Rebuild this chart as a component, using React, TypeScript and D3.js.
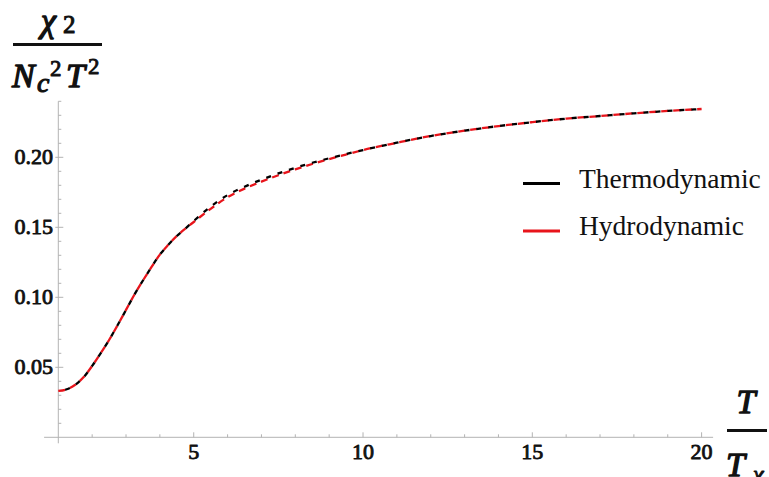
import React, { useRef, useEffect } from 'react'
import * as d3 from 'd3'

// T / T_chi
const temps = [1, 1.25, 1.5, 1.75, 2, 2.25, 2.5, 2.75, 3, 3.25, 3.5, 3.75, 4, 4.25, 4.5, 4.75, 5, 5.5, 6, 6.5, 7, 7.5, 8, 8.5, 9, 9.5, 10, 11, 12, 13, 14, 15, 16, 17, 18, 19, 20]

// chi_2 / (Nc^2 T^2)
const thermo = [0.0331, 0.0343, 0.0375, 0.043, 0.051, 0.060, 0.0695, 0.080, 0.091, 0.102, 0.112, 0.1215, 0.1305, 0.1375, 0.1438, 0.149, 0.1545, 0.1648, 0.173, 0.179, 0.184, 0.1885, 0.1925, 0.1961, 0.1993, 0.2023, 0.2052, 0.2104, 0.2152, 0.219, 0.2223, 0.2251, 0.2276, 0.2295, 0.2314, 0.2331, 0.2345]
const hydro = [0.0331, 0.0343, 0.0375, 0.043, 0.051, 0.060, 0.0695, 0.080, 0.091, 0.102, 0.112, 0.1215, 0.1305, 0.1375, 0.1438, 0.149, 0.1538, 0.1632, 0.1715, 0.1776, 0.1826, 0.1872, 0.1914, 0.1952, 0.1987, 0.202, 0.2052, 0.2104, 0.2152, 0.219, 0.2223, 0.2251, 0.2276, 0.2295, 0.2314, 0.2331, 0.2345]

const xMajor = [5, 10, 15, 20]
const xMinor = [2, 3, 4, 6, 7, 8, 9, 11, 12, 13, 14, 16, 17, 18, 19]
const yMajor = [0.05, 0.1, 0.15, 0.2]
const yMinor = [0.01, 0.02, 0.03, 0.04, 0.06, 0.07, 0.08, 0.09, 0.11, 0.12, 0.13, 0.14, 0.16, 0.17, 0.18, 0.19, 0.21, 0.22, 0.23, 0.24]

const series = [
  { name: 'Thermodynamic', values: thermo, color: '#000000' },
  { name: 'Hydrodynamic', values: hydro, color: '#e8141b' },
]

const serif = 'Liberation Serif'
const ink = '#111'

export default function App() {
  const svgRef = useRef<SVGSVGElement>(null)

  useEffect(() => {
    const svg = d3.select(svgRef.current)
    svg.selectAll('*').remove()

    const x = d3.scaleLinear().domain([1, 20]).range([58.3, 701.6])
    const y = d3.scaleLinear().domain([0, 0.24]).range([437.3, 101.3])
    const axisColor = '#b3b3b3'

    // bold look: regular serif face thickened with a stroke of the same ink
    const boldText = (tx: number, ty: number, str: string, size: number, italic = false, anchor = 'start') =>
      svg.append('text')
        .attr('x', tx).attr('y', ty)
        .attr('text-anchor', anchor)
        .attr('font-family', serif)
        .attr('font-style', italic ? 'italic' : 'normal')
        .attr('font-size', size)
        .attr('fill', ink)
        .attr('stroke', ink)
        .attr('stroke-width', size * 0.04)
        .attr('stroke-linejoin', 'round')
        .text(str)

    // axes
    svg.append('line')
      .attr('x1', x(0.58)).attr('x2', x(20.34))
      .attr('y1', y(0)).attr('y2', y(0))
      .attr('stroke', axisColor).attr('stroke-width', 1)
    svg.append('line')
      .attr('x1', x(1)).attr('x2', x(1))
      .attr('y1', y(0.24)).attr('y2', y(0) + 6)
      .attr('stroke', axisColor).attr('stroke-width', 1)

    // ticks
    xMinor.forEach((t) => {
      svg.append('line')
        .attr('x1', x(t)).attr('x2', x(t))
        .attr('y1', y(0)).attr('y2', y(0) - 3)
        .attr('stroke', axisColor).attr('stroke-width', 1)
    })
    xMajor.forEach((t) => {
      svg.append('line')
        .attr('x1', x(t)).attr('x2', x(t))
        .attr('y1', y(0)).attr('y2', y(0) - 5)
        .attr('stroke', axisColor).attr('stroke-width', 1)
      boldText(x(t), y(0) + 21.5, String(t), 22, false, 'middle')
    })
    yMinor.forEach((v) => {
      svg.append('line')
        .attr('x1', x(1)).attr('x2', x(1) + 3)
        .attr('y1', y(v)).attr('y2', y(v))
        .attr('stroke', axisColor).attr('stroke-width', 1)
    })
    yMajor.forEach((v) => {
      svg.append('line')
        .attr('x1', x(1) - 3).attr('x2', x(1) + 5)
        .attr('y1', y(v)).attr('y2', y(v))
        .attr('stroke', axisColor).attr('stroke-width', 1)
      boldText(53, y(v) + 7, v.toFixed(2), 22, false, 'end')
    })

    // curves: red dashes underneath, black dashes filling the gaps
    const line = d3.line<number>()
      .x((_, i) => x(temps[i]))
      .y((d) => y(d))
      .curve(d3.curveMonotoneX)

    svg.append('path')
      .datum(hydro)
      .attr('d', line)
      .attr('fill', 'none')
      .attr('stroke', series[1].color)
      .attr('stroke-width', 2.3)
      .attr('stroke-dasharray', '7 5')
    svg.append('path')
      .datum(thermo)
      .attr('d', line)
      .attr('fill', 'none')
      .attr('stroke', series[0].color)
      .attr('stroke-width', 2.3)
      .attr('stroke-dasharray', '5 7')
      .attr('stroke-dashoffset', 5)

    // legend
    series.forEach((s, i) => {
      const ly = 183.5 + i * 47.5
      svg.append('line')
        .attr('x1', 523).attr('x2', 560)
        .attr('y1', ly).attr('y2', ly)
        .attr('stroke', s.color).attr('stroke-width', 2.8)
      svg.append('text')
        .attr('x', 579).attr('y', ly + 4)
        .attr('font-family', serif).attr('font-size', 27.5)
        .attr('fill', ink)
        .text(s.name)
    })

    // y label: chi_2 / (Nc^2 T^2)
    boldText(41, 32, 'χ', 34, true)
    boldText(63, 33, '2', 25)
    svg.append('line')
      .attr('x1', 13).attr('x2', 102).attr('y1', 44.5).attr('y2', 44.5)
      .attr('stroke', ink).attr('stroke-width', 3)
    boldText(12, 87, 'N', 34, true)
    boldText(37, 92, 'c', 28, true)
    boldText(50, 76, '2', 23)
    boldText(66, 87, 'T', 34, true)
    boldText(88, 74, '2', 23)

    // x label: T / T_chi
    boldText(746, 413, 'T', 34, true, 'middle')
    svg.append('line')
      .attr('x1', 727).attr('x2', 767).attr('y1', 430.5).attr('y2', 430.5)
      .attr('stroke', ink).attr('stroke-width', 3)
    boldText(726, 476, 'T', 34, true)
    boldText(753, 482, 'χ', 24, true)
  }, [])

  return (
    <svg
      ref={svgRef}
      width={769}
      height={477}
      viewBox="0 0 769 477"
      style={{ position: 'absolute', left: 0, top: 0, background: '#fff' }}
    />
  )
}
